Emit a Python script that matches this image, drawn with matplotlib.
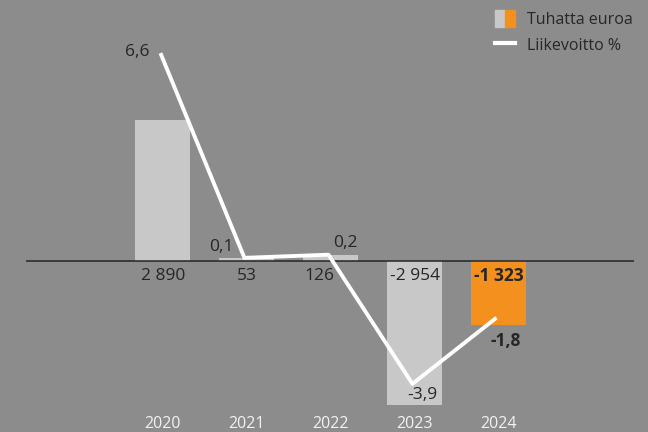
import matplotlib.pyplot as plt
from matplotlib.patches import Patch
from matplotlib.lines import Line2D
from matplotlib.legend_handler import HandlerTuple

plt.rcParams['font.family'] = ['Open Sans', 'DejaVu Sans']

# data
years = ["2020", "2021", "2022", "2023", "2024"]
tuhatta = [2890, 53, 126, -2954, -1323]
tuhatta_labels = ["2 890", "53", "126", "-2 954", "-1 323"]
liikevoitto = [6.6, 0.1, 0.2, -3.9, -1.8]
liikevoitto_labels = ["6,6", "0,1", "0,2", "-3,9", "-1,8"]

# colours
bg = "#8c8c8c"
gray = "#c8c8c8"
orange = "#f3901e"
dark = "#262626"

bar_colors = [gray, gray, gray, gray, orange]
bold_bar = [False, False, False, False, True]
bold_line = [False, False, False, False, True]
# label offsets (pixels)
bar_offsets = [(0, -15), (0, -15), (-12, -15), (0, -15), (0, -15)]
line_offsets = [(-23, 1), (-23, 11), (17, 12), (10, -11), (9, -23)]

fig = plt.figure(figsize=(6.48, 4.32), dpi=100, facecolor=bg)
ax = fig.add_axes([0, 0, 1, 1])
ax.set_facecolor(bg)
ax2 = ax.twinx()

x = list(range(len(years)))
ax.bar(x, tuhatta, width=0.655, color=bar_colors, zorder=2)
ax.hlines(0, -1.631, 5.607, color=dark, lw=1.1, zorder=3)

# left axis: 0.0487 px per unit, baseline 261 px from top
k = 0.0487
ax.set_ylim(-171 / k, 261 / k)
ax.set_xlim(-1.940, 5.774)

for i, (lab, b, off) in enumerate(zip(tuhatta_labels, bold_bar, bar_offsets)):
    ax.annotate(lab, (i, 0), xytext=off, textcoords="offset pixels",
                ha="center", va="center", fontsize=12.5, color=dark,
                fontweight="bold" if b else "normal")

for i, y in enumerate(years):
    ax.text(i, 8 / 432, y, transform=ax.get_xaxis_transform(), ha="center",
            va="center", fontsize=11.5, color="#f2f2f2")

# right axis: 31.5 px per unit
xl = [v - 0.03 for v in x]
ax2.plot(xl, liikevoitto, color="white", lw=2.8, solid_capstyle="butt", zorder=4)
ax2.set_ylim(-171 / 31.5, 261 / 31.5)
for i, (lab, b, off) in enumerate(zip(liikevoitto_labels, bold_line, line_offsets)):
    ax2.annotate(lab, (xl[i], liikevoitto[i]), xytext=off, textcoords="offset pixels",
                 ha="center", va="center", fontsize=12.5, color=dark,
                 fontweight="bold" if b else "normal")

for a in (ax, ax2):
    a.set_xticks([])
    a.set_yticks([])
    for s in a.spines.values():
        s.set_visible(False)

handles = [(Patch(color=gray), Patch(color=orange)),
           Line2D([], [], color="white", lw=3)]
leg = fig.legend(handles, ["Tuhatta euroa", "Liikevoitto %"],
                 handler_map={tuple: HandlerTuple(ndivide=None, pad=0)},
                 loc="upper left", bbox_to_anchor=(495 / 648, 1 - 10 / 432),
                 frameon=False, fontsize=11.5, borderpad=0, borderaxespad=0,
                 handlelength=1.25, handleheight=1.25, handletextpad=0.75,
                 labelspacing=0.5, labelcolor=dark)

fig.savefig("out.png", dpi=100, facecolor=bg)
